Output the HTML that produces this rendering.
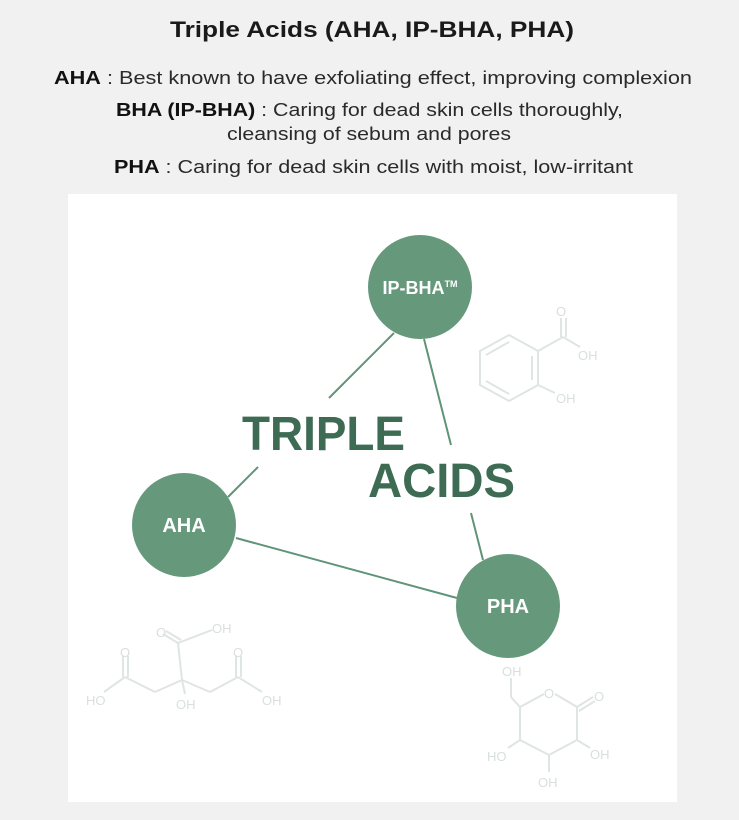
<!DOCTYPE html>
<html><head><meta charset="utf-8"><style>
html,body{margin:0;padding:0;background:#f0f1f0;}
svg{display:block;}
</style></head><body>
<svg width="739" height="820" viewBox="0 0 739 820" xmlns="http://www.w3.org/2000/svg" font-family="Liberation Sans, Arial, sans-serif">
<rect width="739" height="820" fill="#f0f1f0"/>
<text x="170" y="37" font-size="22" font-weight="bold" fill="#1a1a1a" textLength="404" lengthAdjust="spacingAndGlyphs">Triple Acids (AHA, IP-BHA, PHA)</text>
<g font-size="18" fill="#2a2a2a">
<text x="54" y="84" textLength="638" lengthAdjust="spacingAndGlyphs"><tspan font-weight="bold" fill="#111">AHA</tspan> : Best known to have exfoliating effect, improving complexion</text>
<text x="116" y="116" textLength="507" lengthAdjust="spacingAndGlyphs"><tspan font-weight="bold" fill="#111">BHA (IP-BHA)</tspan> : Caring for dead skin cells thoroughly,</text>
<text x="227" y="140" textLength="284" lengthAdjust="spacingAndGlyphs">cleansing of sebum and pores</text>
<text x="114" y="173" textLength="519" lengthAdjust="spacingAndGlyphs"><tspan font-weight="bold" fill="#111">PHA</tspan> : Caring for dead skin cells with moist, low-irritant</text>
</g>
<rect x="68" y="194" width="609" height="608" fill="#ffffff"/>
<!-- molecules -->
<g stroke="#dfe5e2" stroke-width="2" fill="none">
<polygon points="509,335 538,351 538,385 509,401 480,385 480,351"/>
<line x1="486" y1="355" x2="509" y2="342"/><line x1="532" y1="356" x2="532" y2="380"/><line x1="486" y1="381" x2="509" y2="394"/>
<line x1="538" y1="351" x2="563" y2="337"/><line x1="561" y1="337" x2="561" y2="318"/><line x1="566" y1="337" x2="566" y2="318"/><line x1="563" y1="337" x2="580" y2="347"/>
<line x1="538" y1="385" x2="555" y2="393"/>
<!-- citric -->
<line x1="182" y1="680" x2="178" y2="643"/><line x1="178" y1="643" x2="163" y2="634"/><line x1="181" y1="640" x2="166" y2="631"/><line x1="178" y1="643" x2="212" y2="630"/>
<line x1="182" y1="680" x2="155" y2="692"/><line x1="155" y1="692" x2="125" y2="677"/><line x1="123" y1="677" x2="123" y2="656"/><line x1="128" y1="677" x2="128" y2="656"/><line x1="125" y1="677" x2="104" y2="692"/>
<line x1="182" y1="680" x2="210" y2="692"/><line x1="210" y1="692" x2="238" y2="677"/><line x1="236" y1="677" x2="236" y2="656"/><line x1="241" y1="677" x2="241" y2="656"/><line x1="238" y1="677" x2="262" y2="692"/>
<line x1="182" y1="680" x2="185" y2="694"/>
<!-- gluconolactone -->
<polyline points="544,694 520,707 520,740 549,755 577,740 577,707 555,694"/>
<line x1="520" y1="707" x2="511" y2="697"/><line x1="511" y1="697" x2="511" y2="678"/>
<line x1="577" y1="707" x2="593" y2="697"/><line x1="579" y1="711" x2="595" y2="701"/>
<line x1="520" y1="740" x2="508" y2="748"/><line x1="577" y1="740" x2="590" y2="748"/><line x1="549" y1="755" x2="549" y2="772"/>
</g>
<g fill="#d9e0dc" font-size="13">
<text x="556" y="316">O</text><text x="578" y="360">OH</text><text x="556" y="403">OH</text>
<text x="156" y="637">O</text><text x="212" y="633">OH</text><text x="120" y="657">O</text><text x="233" y="657">O</text>
<text x="86" y="705">HO</text><text x="176" y="709">OH</text><text x="262" y="705">OH</text>
<text x="502" y="676">OH</text><text x="544" y="698">O</text><text x="594" y="701">O</text>
<text x="487" y="761">HO</text><text x="590" y="759">OH</text><text x="538" y="787">OH</text>
</g>
<!-- connectors -->
<g stroke="#5f9479" stroke-width="2">
<line x1="394" y1="333" x2="329" y2="398"/>
<line x1="424" y1="339" x2="451" y2="445"/>
<line x1="258" y1="467" x2="228" y2="497"/>
<line x1="236" y1="538" x2="457" y2="598"/>
<line x1="471" y1="513" x2="483" y2="560"/>
</g>
<g fill="#66997c">
<circle cx="420" cy="287" r="52"/>
<circle cx="184" cy="525" r="52"/>
<circle cx="508" cy="606" r="52"/>
</g>
<g fill="#ffffff" font-weight="bold" text-anchor="middle">
<text x="420" y="294" font-size="18">IP-BHA<tspan font-size="9" dy="-7">TM</tspan></text>
<text x="184" y="532" font-size="20">AHA</text>
<text x="508" y="613" font-size="20">PHA</text>
</g>
<g fill="#3d6b53" font-weight="bold" font-size="48">
<text x="242" y="450" textLength="163" lengthAdjust="spacingAndGlyphs">TRIPLE</text>
<text x="368" y="497" textLength="147" lengthAdjust="spacingAndGlyphs">ACIDS</text>
</g>
</svg>
</body></html>
